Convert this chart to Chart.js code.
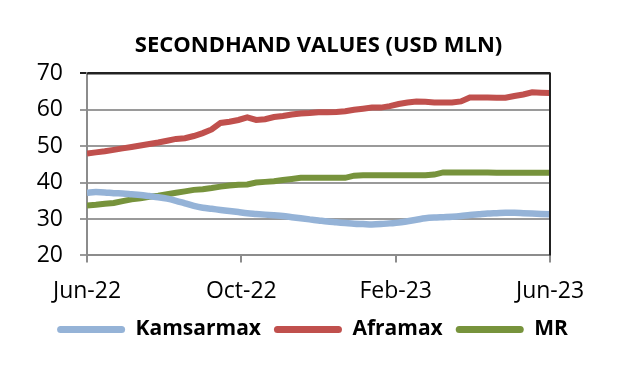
<!DOCTYPE html>
<html>
<head>
<meta charset="utf-8">
<script src="https://cdn.jsdelivr.net/npm/chart.js@4.4.0/dist/chart.umd.min.js"></script>
<style>
html,body{margin:0;padding:0;background:#fff;}
#wrap{width:625px;height:372px;}
</style>
</head>
<body>
<div id="wrap"><canvas id="c" width="625" height="372"></canvas></div>
<script>
const tickLabels = ['Jun-22','Oct-22','Feb-23','Jun-23'];
const seriesNames = ['Kamsarmax','Aframax','MR'];
// weekly values, Jun-22 .. Jun-23 (53 weeks)
const kamsarmax = [37.2,37.4,37.3,37.1,37.0,36.8,36.6,36.3,36.0,35.6,35.0,34.3,33.6,33.1,32.8,32.5,32.2,31.9,31.6,31.4,31.2,31.0,30.8,30.5,30.2,29.9,29.6,29.3,29.1,28.9,28.7,28.6,28.5,28.6,28.8,29.0,29.4,29.8,30.2,30.4,30.5,30.6,30.8,31.1,31.3,31.5,31.6,31.7,31.7,31.6,31.5,31.4,31.3];
const aframax = [48.0,48.3,48.6,49.0,49.4,49.8,50.2,50.6,51.0,51.5,52.0,52.2,52.8,53.6,54.6,56.4,56.7,57.2,57.9,57.2,57.4,58.0,58.3,58.7,59.0,59.1,59.3,59.3,59.4,59.6,60.0,60.3,60.6,60.6,61.0,61.6,62.0,62.3,62.2,62.0,62.0,62.0,62.3,63.4,63.4,63.4,63.3,63.3,63.8,64.2,64.8,64.7,64.6];
const mr = [33.7,33.9,34.2,34.4,34.9,35.4,35.7,36.1,36.4,36.8,37.2,37.6,38.0,38.2,38.5,38.9,39.2,39.4,39.5,40.0,40.2,40.4,40.7,41.0,41.3,41.3,41.3,41.3,41.3,41.3,41.9,42.0,42.0,42.0,42.0,42.0,42.0,42.0,42.0,42.2,42.8,42.8,42.8,42.8,42.8,42.8,42.7,42.7,42.7,42.7,42.7,42.7,42.7];
const yMin = 20, yMax = 70, yStep = 10;

const colors = ['#95B3D7','#C0504D','#77933C'];
const weeks = kamsarmax.length - 1;
const toPts = arr => arr.map((v,i)=>({x:i, y:v}));

const FONT = '"Open Sans"';

const borderPlugin = {
  id:'plotBorder',
  afterDraw(chart){
    const a = chart.chartArea, ctx = chart.ctx;
    ctx.save();
    ctx.strokeStyle = '#222';
    ctx.lineWidth = 2;
    ctx.beginPath();
    ctx.moveTo(a.left, a.top);
    ctx.lineTo(a.right, a.top);
    ctx.lineTo(a.right, a.bottom);
    ctx.stroke();
    ctx.restore();
  }
};

new Chart(document.getElementById('c'), {
  type:'line',
  data:{
    datasets:[
      {label:seriesNames[0], data:toPts(kamsarmax), borderColor:colors[0], backgroundColor:colors[0], borderWidth:6.5, pointRadius:0, tension:0.4, cubicInterpolationMode:'monotone'},
      {label:seriesNames[1], data:toPts(aframax), borderColor:colors[1], backgroundColor:colors[1], borderWidth:6, pointRadius:0, tension:0},
      {label:seriesNames[2], data:toPts(mr), borderColor:colors[2], backgroundColor:colors[2], borderWidth:6, pointRadius:0, tension:0}
    ]
  },
  options:{
    responsive:false,
    animation:false,
    layout:{padding:{left:0,right:0,top:0,bottom:22}},
    plugins:{
      title:{display:true, fullSize:false, text:'SECONDHAND VALUES (USD MLN)', color:'#000',
        font:{family:FONT, size:22, weight:'bold'}, padding:{top:33,bottom:14}},
      legend:{position:'bottom',
        labels:{color:'#000', font:{family:FONT,size:21,weight:'bold'}, boxWidth:68, boxHeight:7, padding:13,
          useBorderRadius:true, borderRadius:3.5,
          generateLabels(chart){
            return chart.data.datasets.map((d,i)=>({text:d.label, fillStyle:d.borderColor, strokeStyle:d.borderColor, lineWidth:0, borderRadius:3.5, datasetIndex:i, hidden:false, fontColor:'#000'}));
          }}},
      tooltip:{enabled:false}
    },
    scales:{
      x:{type:'linear', min:0, max:weeks,
        afterBuildTicks(scale){ scale.ticks = tickLabels.map((t,i)=>({value: i*weeks/(tickLabels.length-1)})); },
        ticks:{color:'#000', font:{family:FONT,size:23}, padding:15, maxRotation:0,
          callback(v,i){ return tickLabels[i]; }},
        grid:{drawOnChartArea:false, drawTicks:true, tickLength:7, color:'#8c8c8c', lineWidth:2},
        border:{color:'#8c8c8c', width:2},
        afterFit(scale){ scale.height = scale.height - 14; }
      },
      y:{min:yMin, max:yMax,
        ticks:{stepSize:yStep, color:'#000', font:{family:FONT,size:23}, padding:17},
        grid:{color:(c)=> c.tick && c.tick.value===yMax ? '#222' : '#9a9a9a', lineWidth:2, tickLength:7},
        border:{color:'#8c8c8c', width:2},
        afterFit(scale){ scale.width = 87; }
      },
      y2:{position:'right', min:yMin, max:yMax, display:true,
        ticks:{display:false}, grid:{display:false, drawTicks:false}, border:{display:false},
        afterFit(scale){ scale.width = 75; }
      }
    }
  },
  plugins:[borderPlugin]
});
</script>
</body>
</html>
